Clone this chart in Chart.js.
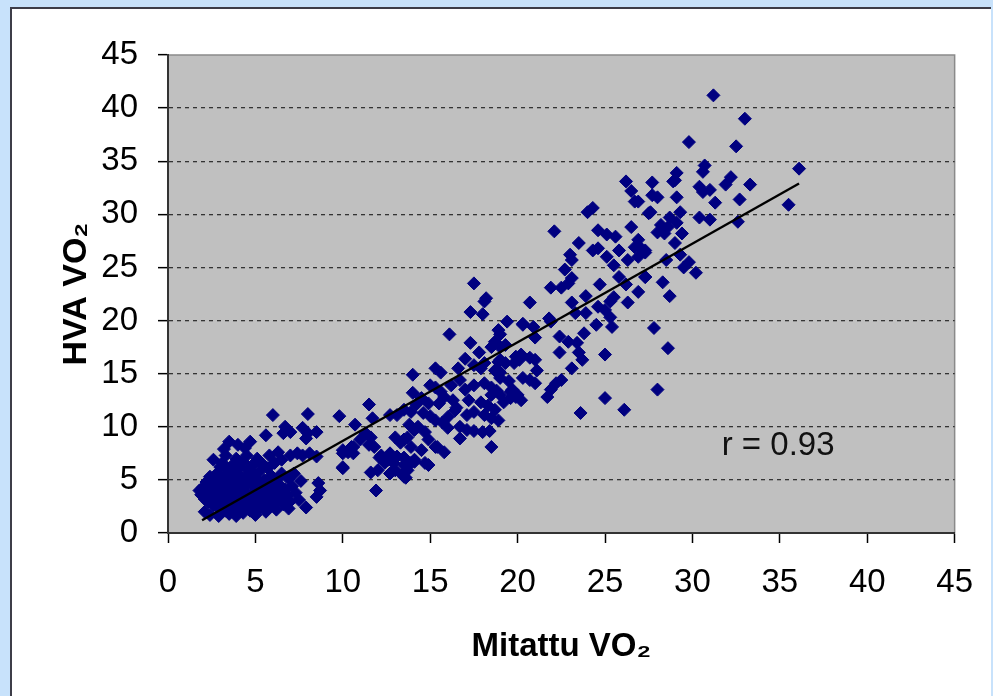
<!DOCTYPE html>
<html>
<head>
<meta charset="utf-8">
<script src="https://cdn.jsdelivr.net/npm/chart.js@4.4.1/dist/chart.umd.min.js"></script>
<style>
  html, body { margin: 0; padding: 0; }
  body { width: 993px; height: 696px; background: #c8e2fb; position: relative; overflow: hidden; }
  #panel { position: absolute; left: 10px; top: 7px; right: 2px; bottom: 0; background: #ffffff;
           border-top: 2px solid #3d3d48; border-left: 2px solid #3d3d48; }
  #wrap { position: absolute; left: 0; top: 0; width: 993px; height: 696px; }
</style>
</head>
<body>
<div id="panel"></div>
<div id="wrap"><canvas id="c" width="993" height="696"></canvas></div>
<script>
// Measured VO2 (x) vs. HVA-estimated VO2 (y), [x, y] pairs
const lowRange = [
  [1.8,4.0],[1.9,3.6],[2.0,4.3],[2.1,3.2],[2.2,4.8],[2.3,3.9],[2.3,2.9],[2.4,5.3],[2.5,4.4],[2.5,3.5],
  [2.6,6.9],[2.6,2.6],[2.7,4.9],[2.7,3.8],[2.8,5.6],[2.8,3.1],[2.9,4.2],[2.9,2.3],[3.0,6.2],[3.0,5.0],
  [3.0,3.6],[3.1,6.6],[3.1,2.8],[3.2,4.5],[3.2,3.2],[3.3,7.3],[3.3,5.4],[3.3,2.1],[3.4,4.0],[3.4,6.0],
  [3.5,8.6],[3.5,3.4],[3.5,1.8],[3.6,4.7],[3.6,5.8],[3.6,2.6],[3.7,6.4],[3.7,3.9],[3.8,5.1],[3.8,3.0],
  [3.8,2.0],[3.9,4.4],[3.9,7.0],[4.0,8.3],[4.0,5.5],[4.0,3.6],[4.0,2.4],[4.1,6.1],[4.1,4.1],[4.2,4.9],
  [4.2,2.9],[4.3,6.7],[4.3,3.4],[4.3,1.9],[4.4,5.3],[4.4,4.4],[4.5,7.3],[4.5,3.8],[4.5,2.5],[4.6,6.0],
  [4.6,5.0],[4.7,8.6],[4.7,3.2],[4.7,2.1],[4.8,4.6],[4.8,5.7],[4.9,6.5],[4.9,3.6],[4.9,2.7],[5.0,5.2],
  [5.0,4.0],[5.1,7.0],[5.1,3.0],[5.2,4.8],[5.2,2.3],[5.3,5.9],[5.3,3.5],[5.4,4.3],[5.4,6.5],[5.5,2.8],
  [5.5,5.0],[5.6,3.9],[5.7,6.1],[5.7,3.2],[5.8,4.6],[5.8,2.5],[5.9,5.4],[6.0,3.6],[6.0,4.2],[6.1,6.6],
  [6.1,2.9],[6.2,5.0],[6.3,3.9],[6.4,4.5],[6.4,3.2],[6.5,5.6],[6.6,2.7],[6.7,4.1],[6.8,3.5],[6.9,5.1],
  [7.0,3.0],[7.1,4.4],[7.3,3.8],[7.5,3.1],
  [2.1,2.0],[2.4,1.7],[2.9,1.6],[3.2,7.9],[3.9,1.6],[4.4,8.0],[5.0,1.7],[5.6,2.0],[6.2,2.2],[6.9,2.3],
  [7.2,5.6],[7.6,4.9],[6.5,6.9],[5.8,7.3],
  [6.0,11.1],[8.0,11.2],[9.8,11.0],[10.7,10.2],[6.7,10.0],[6.6,9.4],[7.0,9.5],[5.6,9.2],[7.7,9.9],[8.0,9.4],
  [7.9,8.9],[8.5,9.5],[6.3,7.6],[7.0,7.3],[7.4,7.5],[7.7,7.3],[8.1,7.5],[8.5,7.2],[10.0,7.8],[10.5,8.1],
  [10.6,7.5],[10.0,6.1],[8.6,4.7],[8.7,4.0],[8.5,3.4],[7.9,2.4]
];

const midRange = [
  [11.5,12.1],[11.7,10.8],[11.3,9.4],[11.6,9.0],[11.0,8.8],[13.0,9.0],[13.5,8.8],[13.9,8.1],[14.9,8.8],[15.3,8.1],
  [14.5,7.8],[18.5,8.1],[10.6,8.1],[10.3,7.6],[10.0,7.5],[11.5,8.3],[11.8,8.1],[12.7,7.5],[13.1,7.2],[12.1,7.1],
  [12.4,6.6],[13.5,7.1],[13.9,6.6],[13.7,5.9],[15.4,8.1],[15.8,7.6],[14.7,6.6],[14.1,6.7],[10.0,6.2],[11.6,5.7],
  [12.0,5.9],[12.7,5.6],[13.4,5.5],[13.6,5.2],[11.9,4.0],
  [13.5,11.6],[13.1,11.1],[12.7,11.1],[13.9,11.4],[16.5,11.8],[17.1,11.1],[17.5,11.4],[18.1,11.1],[18.5,10.8],[18.7,11.6],
  [13.8,10.2],[14.3,10.0],[14.7,9.5],[16.0,10.9],[15.7,10.4],[16.0,9.9],[16.7,10.0],[17.1,9.7],[16.7,8.9],[17.5,9.6],
  [18.0,9.5],[18.4,9.6],[15.0,11.0],[14.6,11.3],[15.3,10.6],[16.4,11.5],
  [15.0,13.9],[15.3,13.7],[16.7,14.4],[17.0,13.5],[17.5,13.9],[18.1,14.1],[18.5,13.7],[19.7,13.5],[20.0,13.0],[19.6,12.7],
  [18.8,13.4],[19.0,13.0],[18.5,13.0],[15.8,12.8],[16.3,12.5],[15.5,12.2],[14.5,12.7],[14.9,12.2],[14.2,12.1],[14.0,13.2],
  [15.6,13.3],[16.2,13.9],[17.2,12.5],[17.9,12.3],[18.3,12.0],[19.2,12.3],
  [15.3,15.5],[15.6,15.1],[14.0,14.9],[18.7,15.3],[19.0,15.1],[19.8,16.0],[17.5,15.8],[17.9,15.5],[18.1,16.0],[19.0,16.3],
  [19.3,16.0],[20.2,16.8],[17.8,17.0],[18.7,18.0],[19.0,17.5],[18.5,17.5],[17.3,17.9],[16.1,18.7],[18.9,19.1],[19.4,19.9],
  [20.3,19.7],[17.3,20.8],[18.0,20.6],[18.1,21.8],[17.5,23.5],[18.2,22.1],[16.6,15.5],[17.0,16.4],[19.5,14.3],[20.3,14.6],
  [13.3,8.5],[13.7,9.0],[14.1,9.7],[13.0,5.9],[13.5,6.4],[14.1,6.9],[14.9,6.4],[13.5,5.3],[12.2,7.3],[12.6,6.9],
  [12.9,6.6],
  [18.9,10.6],[19.6,13.3],[19.9,12.8],[20.2,12.5],[20.7,14.4],[21.0,14.1],[18.9,15.3],[19.0,14.6],[20.7,16.5],[21.0,16.3],
  [19.9,16.6],[20.1,16.3],[18.9,16.1],[21.1,15.3]
];

const highRange = [
  [20.7,21.7],[23.1,21.7],[23.9,22.3],[24.6,21.3],[25.3,21.8],[25.5,22.2],[26.3,21.7],[25.0,21.0],[23.3,20.7],[23.9,20.7],
  [21.8,20.2],[25.3,20.3],[20.3,19.6],[20.9,19.4],[21.9,19.9],[24.5,19.6],[25.4,19.4],[27.8,19.3],[19.0,18.7],[21.0,18.4],
  [22.4,18.5],[22.9,18.0],[23.8,18.8],[23.4,17.9],[28.6,17.4],[19.3,17.7],[22.4,17.0],[23.5,17.0],[25.0,16.8],[23.7,16.3],
  [23.1,15.5],[22.5,14.4],[22.2,14.1],[21.9,13.5],[21.7,12.8],[28.0,13.5],[25.0,12.7],[23.6,11.3],[26.1,11.6],
  [22.1,28.4],[24.6,28.5],[25.1,28.1],[25.6,27.9],[26.5,28.8],[27.5,30.1],[23.5,27.3],[24.3,26.6],[24.6,26.8],[25.1,26.0],
  [25.8,26.6],[26.7,26.9],[27.3,26.6],[26.9,26.0],[26.3,25.7],[23.0,26.2],[23.1,25.7],[25.5,25.2],[22.7,24.8],[23.1,24.0],
  [21.9,23.1],[22.5,23.1],[22.9,23.5],[24.7,23.4],[25.8,24.1],[26.2,23.4],[27.3,24.1],[24.0,30.2],[24.3,30.6],[26.2,33.1],
  [26.5,32.2],[26.7,31.2],[28.9,33.1],
  [31.2,41.2],[33.0,39.0],[29.8,36.8],[32.5,36.4],[36.1,34.3],[30.7,34.6],[30.6,34.0],[29.1,33.9],[29.0,33.2],[27.7,33.0],
  [32.2,33.5],[31.9,32.8],[33.3,32.8],[30.4,32.6],[30.6,32.1],[31.0,32.3],[27.7,31.8],[28.0,31.6],[29.1,31.6],[31.3,31.1],
  [32.7,31.4],[35.5,30.9],[26.9,31.2],[27.6,30.2],[29.3,30.2],[28.7,29.7],[30.4,29.7],[31.0,29.5],[32.6,29.3],[28.2,29.0],
  [28.6,28.8],[29.1,29.2],[28.0,28.3],[28.4,28.2],[26.9,27.6],[29.4,28.2],[29.0,27.3],[27.0,26.9],[27.3,26.4],[28.5,25.7],
  [29.3,26.2],[29.8,25.5],[29.5,25.0],[30.2,24.5],[27.3,24.1],[28.3,23.6],[28.7,22.3],[26.9,22.7]
];

// Regression line end points and correlation label
const trendX = [1.95, 36.1];
const trendY = [1.2, 32.9];
const correlationText = 'r = 0.93';
const correlationPos = [34.9, 8.2];

// Axis settings
const axisMin = 0, axisMax = 45, axisStep = 5;
const xTitle = 'Mitattu VO\u2082';
const yTitle = 'HVA VO\u2082';

const FONT = '"Liberation Sans", Arial, sans-serif';
const PAD = { left: 40, right: 36, top: 55, bottom: 10 };
const PLOT_LEFT = 168, PLOT_BOTTOM = 533, CANVAS_H = 696;

const allPoints = lowRange.concat(midRange, highRange).map(p => ({ x: p[0], y: p[1] }));
const trendPoints = trendX.map((x, i) => ({ x, y: trendY[i] }));

const plotFrame = {
  id: 'plotFrame',
  beforeDraw(chart) {
    const { ctx, chartArea: a } = chart;
    ctx.save();
    ctx.fillStyle = '#c0c0c0';
    ctx.fillRect(a.left, a.top, a.right - a.left, a.bottom - a.top);
    ctx.strokeStyle = '#8a8a8a';
    ctx.lineWidth = 1.5;
    ctx.strokeRect(a.left, a.top, a.right - a.left, a.bottom - a.top);
    ctx.restore();
  }
};

const corrLabel = {
  id: 'corrLabel',
  afterDatasetsDraw(chart) {
    const { ctx, scales } = chart;
    ctx.save();
    ctx.font = '33px ' + FONT;
    ctx.fillStyle = '#111';
    ctx.textAlign = 'center';
    ctx.textBaseline = 'middle';
    ctx.fillText(correlationText, scales.x.getPixelForValue(correlationPos[0]), scales.y.getPixelForValue(correlationPos[1]));
    ctx.restore();
  }
};

new Chart(document.getElementById('c'), {
  type: 'scatter',
  data: {
    datasets: [
      {
        type: 'line',
        data: trendPoints,
        borderColor: '#000',
        borderWidth: 2.4,
        pointRadius: 0,
        fill: false
      },
      {
        data: allPoints,
        pointStyle: 'rectRot',
        pointRadius: 6.5,
        backgroundColor: '#000080',
        borderColor: '#000080',
        borderWidth: 1
      }
    ]
  },
  options: {
    responsive: false,
    animation: false,
    layout: { padding: PAD },
    plugins: { legend: { display: false }, tooltip: { enabled: false } },
    scales: {
      x: {
        type: 'linear', min: axisMin, max: axisMax,
        ticks: { stepSize: axisStep, color: '#000', font: { family: FONT, size: 33 }, padding: 20, maxRotation: 0 },
        grid: { drawOnChartArea: false, drawTicks: true, tickLength: 10, tickColor: '#000', tickWidth: 1.5 },
        border: { display: true, color: '#333', width: 2 },
        title: { display: true, text: xTitle, color: '#000', font: { family: FONT, size: 33, weight: 'bold' }, padding: { top: 0, bottom: 19 } },
        afterFit(s) { s.height = CANVAS_H - PAD.bottom - PLOT_BOTTOM; }
      },
      y: {
        type: 'linear', min: axisMin, max: axisMax,
        ticks: { stepSize: axisStep, color: '#000', font: { family: FONT, size: 33 }, padding: 20 },
        grid: {
          color: c => (c.tick && (c.tick.value === axisMin || c.tick.value === axisMax)) ? 'rgba(0,0,0,0)' : '#333',
          lineWidth: 1.3, tickLength: 10, tickColor: '#000', tickWidth: 1.5
        },
        border: { display: true, color: '#333', width: 2, dash: [4, 4] },
        title: { display: true, text: yTitle, color: '#000', font: { family: FONT, size: 34, weight: 'bold' }, padding: { top: 16, bottom: 0 } },
        afterFit(s) { s.width = PLOT_LEFT - PAD.left; }
      }
    }
  },
  plugins: [plotFrame, corrLabel]
});
</script>
</body>
</html>
